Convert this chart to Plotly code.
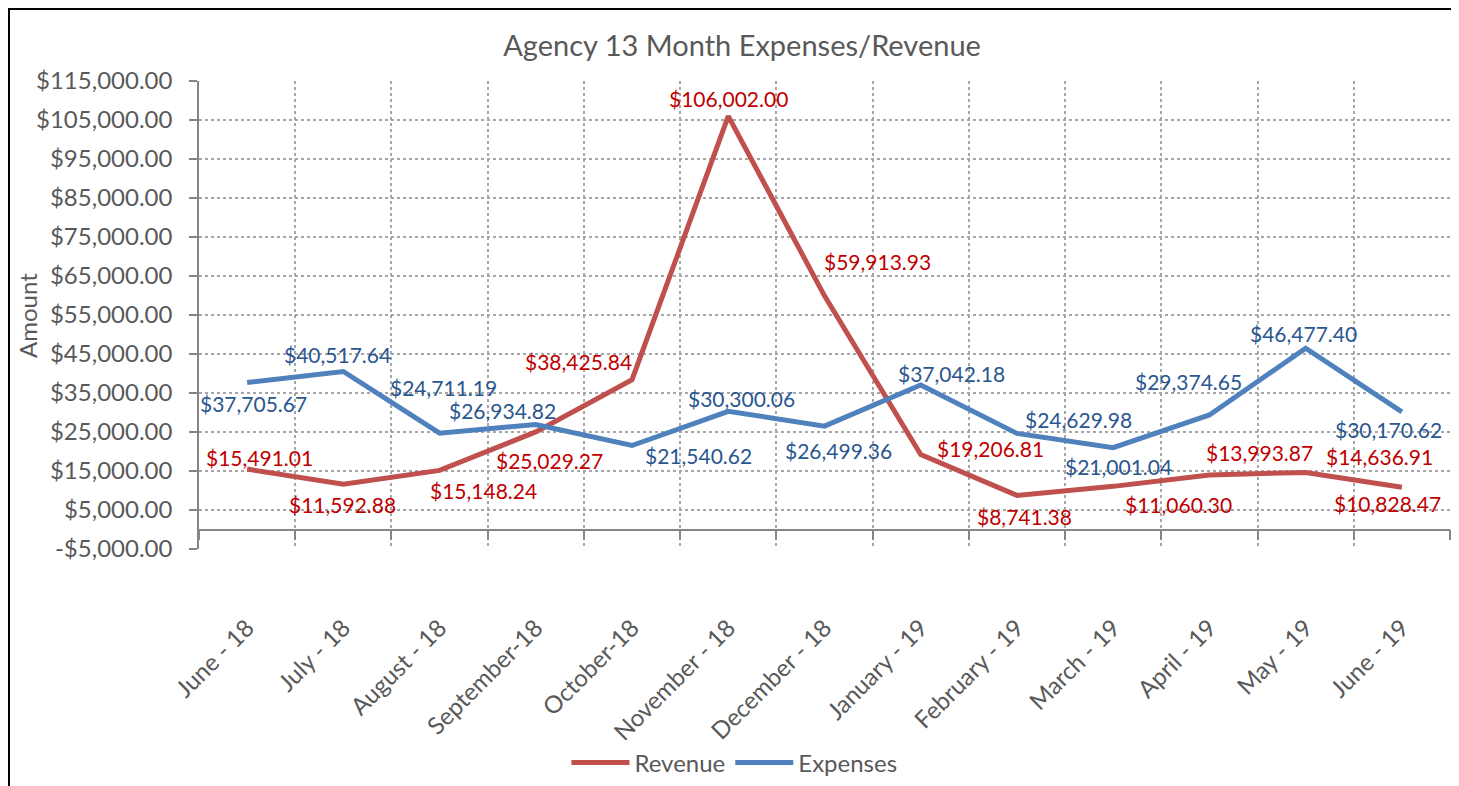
import plotly.graph_objects as go

months = ['June - 18', 'July - 18', 'August - 18', 'September-18', 'October-18',
          'November - 18', 'December - 18', 'January - 19', 'February - 19',
          'March - 19', 'April - 19', 'May - 19', 'June - 19']

revenue = [15491.01, 11592.88, 15148.24, 25029.27, 38425.84, 106002.00, 59913.93,
           19206.81, 8741.38, 11060.30, 13993.87, 14636.91, 10828.47]

expenses = [37705.67, 40517.64, 24711.19, 26934.82, 21540.62, 30300.06, 26499.36,
            37042.18, 24629.98, 21001.04, 29374.65, 46477.40, 30170.62]

y_tickvals = [-5000, 5000, 15000, 25000, 35000, 45000, 55000, 65000, 75000,
              85000, 95000, 105000, 115000]
y_ticktext = ['-$5,000.00', '$5,000.00', '$15,000.00', '$25,000.00', '$35,000.00',
              '$45,000.00', '$55,000.00', '$65,000.00', '$75,000.00', '$85,000.00',
              '$95,000.00', '$105,000.00', '$115,000.00']

# data label offsets in px (x right, y up), the labels were dragged around by hand
rev_dx = [12, -1, 44, 14, -54, 0, 53, 70, 8, 65, 50, 74, -14]
rev_dy = [12, -20, -20, -29, 18, 18, 34, 6, -21, -18, 22, 16, -16]
exp_dx = [6, -6, 4, -33, 66, 13, 14, 31, 62, 5, -21, -2, -13]
exp_dy = [-21, 17, 46, 14, -10, 13, -24, 12, 14, -19, 33, 15, -18]

FONT = 'Lato'
GREY = '#595959'
AXIS = '#868686'
GRID = '#A6A6A6'

fig = go.Figure()
fig.add_trace(go.Scatter(x=months, y=revenue, name='Revenue', mode='lines',
                         line=dict(color='#C0504D', width=5)))
fig.add_trace(go.Scatter(x=months, y=expenses, name='Expenses', mode='lines',
                         line=dict(color='#4F81BD', width=5)))

annotations = []
for m, v, dx, dy in zip(months, revenue, rev_dx, rev_dy):
    annotations.append(dict(x=m, y=v, xref='x', yref='y', text='${:,.2f}'.format(v),
                            showarrow=False, xshift=dx, yshift=dy, xanchor='center',
                            font=dict(family=FONT, size=21, color='#C00000')))
for m, v, dx, dy in zip(months, expenses, exp_dx, exp_dy):
    annotations.append(dict(x=m, y=v, xref='x', yref='y', text='${:,.2f}'.format(v),
                            showarrow=False, xshift=dx, yshift=dy, xanchor='center',
                            font=dict(family=FONT, size=21, color='#2A5690')))

# y axis title
annotations.append(dict(xref='paper', yref='paper', x=-0.1375, y=0.5,
                        xanchor='center', yanchor='middle',
                        text='Amount', textangle=-90, showarrow=False,
                        font=dict(family=FONT, size=24, color=GREY)))

# page body has an 8px margin, so the figure is sized/offset for that
fig.update_layout(
    width=1451,
    height=778,
    autosize=False,
    margin=dict(l=191, r=9, t=73, b=237, autoexpand=False),
    paper_bgcolor='white',
    plot_bgcolor='white',
    font=dict(family=FONT, color=GREY),
    title=dict(text='Agency 13 Month Expenses/Revenue', x=0.5059, xref='container',
               y=0.9512, yref='container', xanchor='center', yanchor='middle',
               font=dict(family=FONT, size=29, color=GREY)),
    legend=dict(orientation='h', x=0.428, xanchor='center', y=-0.457, yanchor='middle',
                font=dict(family=FONT, size=24, color=GREY), itemwidth=58),
    annotations=annotations,
    shapes=[dict(type='rect', xref='paper', yref='paper', x0=-0.1519, x1=1.002,
                 y0=-0.6, y1=1.1538, line=dict(color='black', width=2))],
)

fig.update_xaxes(type='category', range=[-0.5, 12.5], tickson='boundaries',
                 showgrid=True, gridcolor=GRID, griddash='dot', gridwidth=1.5,
                 showline=True, linecolor=AXIS, linewidth=1.5,
                 ticks='outside', ticklen=10, tickcolor=AXIS, tickwidth=1.5,
                 tickangle=-45, tickfont=dict(family=FONT, size=24, color=GREY),
                 anchor='free', position=5000 / 120000,
                 ticklabelstandoff=74, ticklabelshift=0)

fig.update_yaxes(range=[-5000, 115000], tickvals=y_tickvals, ticktext=y_ticktext,
                 showgrid=True, gridcolor=GRID, griddash='dot', gridwidth=1.5,
                 zeroline=False, showline=True, linecolor=AXIS, linewidth=1.5,
                 ticks='outside', ticklen=8, tickcolor=AXIS, tickwidth=1.5,
                 tickfont=dict(family=FONT, size=24, color=GREY),
                 ticklabelstandoff=12)

fig.write_html('out.html')
